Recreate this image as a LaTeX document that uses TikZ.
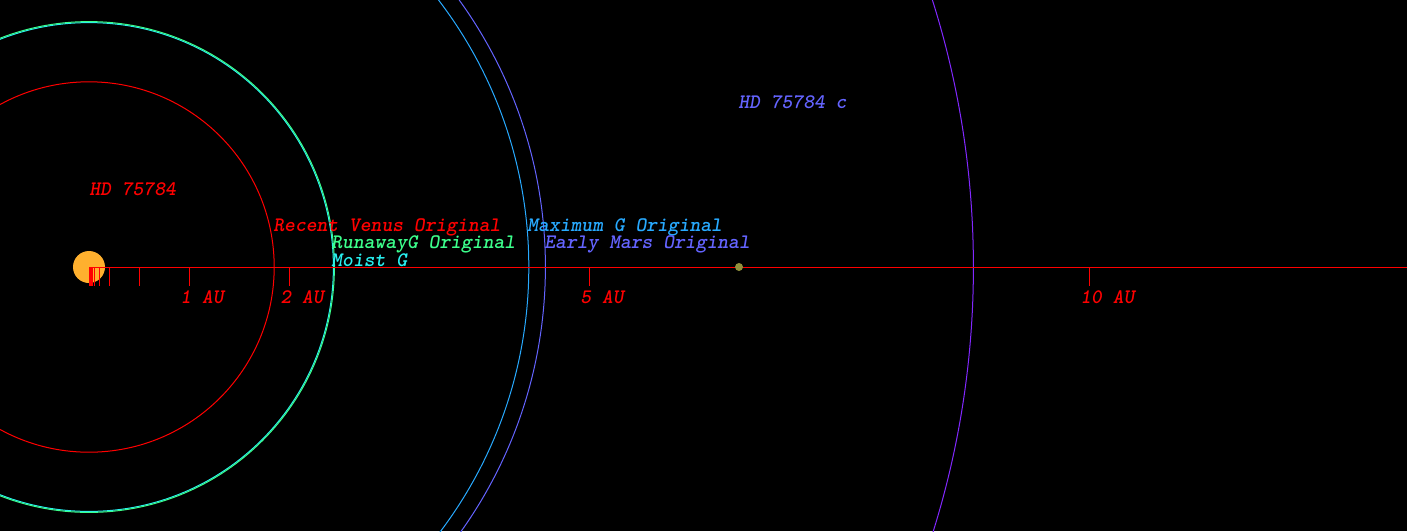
\documentclass[tikz,border=0pt]{standalone}
\usepackage{fontspec}
\definecolor{cred}{RGB}{255,0,0}
\definecolor{cgreen}{RGB}{60,255,140}
\definecolor{ccyan}{RGB}{40,240,240}
\definecolor{cmax}{RGB}{40,170,255}
\definecolor{cmars}{RGB}{100,100,255}
\definecolor{cpurple}{RGB}{130,40,255}
\definecolor{cstar}{RGB}{255,176,46}
\definecolor{cplanet}{RGB}{145,145,60}
\begin{document}
\begin{tikzpicture}[x=0.5pt,y=-0.5pt,
  lbl/.style={font=\ttfamily\bfseries\slshape\fontsize{10.3pt}{11pt}\selectfont, anchor=base west, inner sep=0pt},
  orbit/.style={line width=0.5pt},
  tickline/.style={draw=cred, line width=0.5pt}]
\useasboundingbox (0,0) rectangle (1407,531);
\fill[black] (0,0) rectangle (1407,531);
% star
\fill[cstar] (89,267) circle[radius=8pt];
% orbits
\draw[orbit, cred] (89,267) circle[radius=92.6pt];
\draw[orbit, ccyan] (89,267) circle[radius=122.2pt];
\draw[orbit, cgreen] (89,267) circle[radius=122.7pt];
\draw[orbit, cmax] (89,267) circle[radius=219.9pt];
\draw[orbit, cmars] (89,267) circle[radius=228.2pt];
\draw[orbit, cpurple] (89,267) circle[radius=442.2pt];
% axis
\draw[tickline] (89,267) -- (1407,267);
\foreach \t in {89.6,90.4,91.2,92,94.3,99.3,109.3,139.3,189.3,289.3,589.3,1089.3}
  \draw[tickline] (\t,267) -- (\t,285.5);
% planet
\fill[cplanet] (739,267) circle[radius=2pt];
% labels
\node[lbl, text=cred] (star) at (89,195) {HD 75784};
\node[lbl, text=cmars] (planetc) at (738,108) {HD 75784 c};
\node[lbl, text=cred] (venus) at (273,231) {Recent Venus Original};
\node[lbl, text=cgreen] (runaway) at (331,248.5) {RunawayG Original};
\node[lbl, text=ccyan] (moist) at (331,266) {Moist G};
\node[lbl, text=cmax] (maxg) at (527,231) {Maximum G Original};
\node[lbl, text=cmars] (mars) at (544,248.5) {Early Mars Original};
\node[lbl, text=cred] (au1) at (180,303) {1 AU};
\node[lbl, text=cred] (au2) at (280,303) {2 AU};
\node[lbl, text=cred] (au5) at (580,303) {5 AU};
\node[lbl, text=cred] (au10) at (1080,303) {10 AU};
\end{tikzpicture}
\end{document}
